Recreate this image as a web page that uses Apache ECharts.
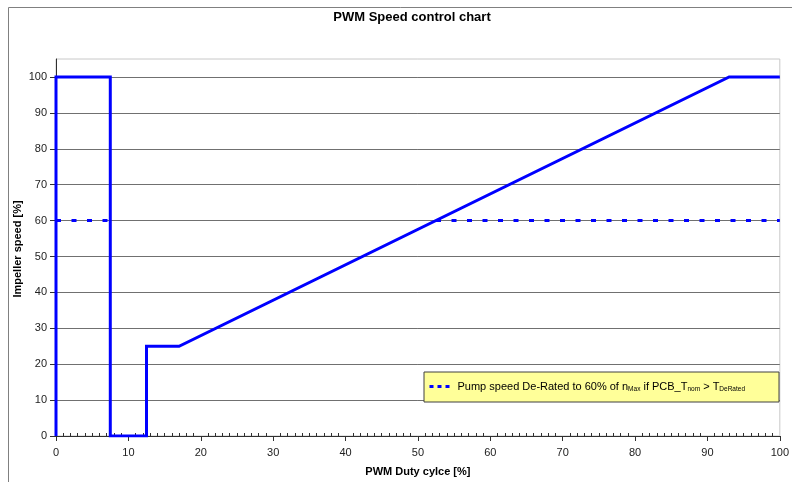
<!DOCTYPE html>
<html>
<head>
<meta charset="utf-8">
<script src="https://cdn.jsdelivr.net/npm/echarts@6/dist/echarts.min.js"></script>
<style>
  html, body { margin: 0; padding: 0; background: #fff; }
  #chart { width: 792px; height: 482px; }
</style>
</head>
<body>
<div id="chart"></div>
<script>
// Normal speed curve: duty cycle [%] -> impeller speed [%]
const dutyCycle     = [0, 0, 7.5, 7.5, 12.5, 12.5, 17, 93, 100];
const impellerSpeed = [0, 100, 100, 0, 0, 25, 25, 100, 100];

// De-rated speed (60 % of nMax), gap where the normal curve is below it
const deratedDuty  = [0, 7.5, null, 52.5, 100];
const deratedSpeed = [60, 60, null, 60, 60];

const xTicks = [0, 10, 20, 30, 40, 50, 60, 70, 80, 90, 100];
const yTicks = [0, 10, 20, 30, 40, 50, 60, 70, 80, 90, 100];

const toPairs = (xs, ys) => xs.map((x, i) => (x === null ? ['-', '-'] : [x, ys[i]]));

const font = 'Arial, "Liberation Sans", sans-serif';
const chart = echarts.init(document.getElementById('chart'));

chart.setOption({
  animation: false,
  backgroundColor: '#fff',
  title: {
    text: 'PWM Speed control chart',
    left: 407, textAlign: 'center', top: 6,
    textStyle: { fontFamily: font, fontSize: 13, fontWeight: 'bold', color: '#000' }
  },
  graphic: [
    {
      type: 'rect', silent: true,
      shape: { x: 8.5, y: 7.5, width: 800, height: 500 },
      style: { fill: 'none', stroke: '#808080', lineWidth: 1 }
    },
    {
      // vertical y-axis title
      type: 'text', silent: true,
      x: 18, y: 249, rotation: Math.PI / 2,
      style: {
        text: 'Impeller speed [%]',
        fontFamily: font, fontSize: 11, fontWeight: 'bold', fill: '#000',
        align: 'center', verticalAlign: 'middle'
      }
    }
  ],
  grid: {
    left: 56, right: 4, top: 59, bottom: 42,
    show: true, borderColor: '#c8c8c8', borderWidth: 1
  },
  legend: {
    data: ['Pump speed De-Rated'],
    left: 424, top: 372,
    padding: [9, 34, 9, 4],
    backgroundColor: '#ffff99',
    borderColor: '#404040', borderWidth: 1, borderRadius: 0,
    itemWidth: 23, itemHeight: 10, itemGap: 6,
    itemStyle: { opacity: 0 },
    lineStyle: { type: [4, 4], width: 3, color: '#0000ff' },
    formatter: () => 'Pump speed De-Rated to 60% of n{sub|Max} if PCB_T{sub|nom} > T{sub|DeRated}',
    textStyle: {
      fontFamily: font, fontSize: 11, color: '#000',
      rich: {
        sub: { fontFamily: font, fontSize: 6.5, color: '#000', padding: [6, 0, 0, 0] }
      }
    }
  },
  xAxis: {
    type: 'value', min: 0, max: 100, interval: 10,
    name: 'PWM Duty cylce [%]', nameLocation: 'middle', nameGap: 30,
    nameTextStyle: { fontFamily: font, fontSize: 11, fontWeight: 'bold', color: '#000' },
    axisLine: { show: true, onZero: false, lineStyle: { color: '#303030', width: 1 } },
    axisTick: { show: true, length: 5, lineStyle: { color: '#303030' } },
    minorTick: { show: true, splitNumber: 10, length: -3, lineStyle: { color: '#303030' } },
    axisLabel: {
      margin: 11, fontFamily: font, fontSize: 11, color: '#222',
      formatter: v => (xTicks.includes(v) ? String(v) : '')
    },
    splitLine: { show: false }
  },
  yAxis: {
    type: 'value', min: 0, max: 105, interval: 10,
    axisLine: { show: true, lineStyle: { color: '#303030', width: 1 } },
    axisTick: { show: true, length: 6, lineStyle: { color: '#303030' } },
    axisLabel: {
      margin: 9, fontFamily: font, fontSize: 11, color: '#222',
      showMaxLabel: false,
      formatter: v => (yTicks.includes(v) ? String(v) : '')
    },
    splitLine: { show: true, showMinLine: false, showMaxLine: false, lineStyle: { color: '#707070', width: 1 } }
  },
  series: [
    {
      name: 'Normal speed',
      type: 'line',
      data: toPairs(dutyCycle, impellerSpeed),
      symbol: 'none',
      lineStyle: { color: '#0000ff', width: 3, join: 'miter' },
      z: 3
    },
    {
      name: 'Pump speed De-Rated',
      type: 'line',
      data: toPairs(deratedDuty, deratedSpeed),
      connectNulls: false,
      symbol: 'none',
      itemStyle: { color: '#0000ff' },
      lineStyle: { color: '#0000ff', width: 3, type: [5, 10.5], cap: 'butt' },
      z: 2
    }
  ]
});
</script>
</body>
</html>
